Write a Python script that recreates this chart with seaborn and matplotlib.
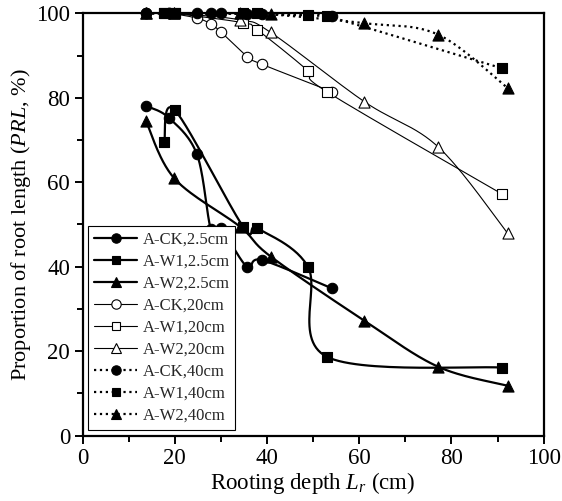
import numpy as np
import pandas as pd
import matplotlib
matplotlib.use("Agg")
import matplotlib.pyplot as plt
from matplotlib.lines import Line2D
import seaborn as sns

# Rooting depths (cm) for each treatment
depth_ck = [13.8, 18.8, 24.8, 27.8, 29.9, 35.7, 38.8, 54.0]
depth_w1 = [17.7, 20.0, 34.8, 37.9, 48.9, 52.9, 91.0]
depth_w2 = [13.7, 19.9, 34.1, 40.8, 61.1, 77.1, 92.2]

# Proportion of root length (%) at 2.5 cm, 20 cm and 40 cm
ck_25 = [78.1, 75.2, 66.6, 48.9, 49.2, 39.9, 41.6, 34.9]
w1_25 = [69.5, 77.1, 49.5, 49.1, 39.9, 18.7, 16.1]
w2_25 = [74.6, 60.9, 49.5, 42.4, 27.2, 16.3, 11.8]

ck_20 = [100.0, 100.0, 98.9, 97.5, 95.7, 89.8, 88.0, 81.5]
w1_20 = [100.0, 100.0, 97.8, 96.1, 86.4, 81.5, 57.2]
w2_20 = [100.0, 100.0, 98.5, 95.5, 79.1, 68.4, 47.9]

ck_40 = [100.0, 100.0, 100.0, 100.0, 100.0, 99.8, 99.8, 99.4]
w1_40 = [100.0, 100.0, 100.0, 100.0, 99.6, 99.4, 87.0]
w2_40 = [100.0, 100.0, 100.0, 99.8, 97.7, 95.0, 82.3]

labels = ["A-CK,2.5cm", "A-W1,2.5cm", "A-W2,2.5cm",
          "A-CK,20cm", "A-W1,20cm", "A-W2,20cm",
          "A-CK,40cm", "A-W1,40cm", "A-W2,40cm"]

x_ticks = [0, 20, 40, 60, 80, 100]
y_ticks = [0, 20, 40, 60, 80, 100]

sns.set_theme(style="ticks")
plt.rcParams["font.family"] = ["Liberation Serif", "DejaVu Serif"]
plt.rcParams["mathtext.fontset"] = "custom"
plt.rcParams["mathtext.rm"] = "Liberation Serif"
plt.rcParams["mathtext.it"] = "Liberation Serif:italic"


def smooth(x, y, n=30):
    """Bezier smoothing through the points (Catmull-Rom style control points)."""
    p = np.column_stack([x, y]).astype(float)
    pts = []
    m = len(p)
    for i in range(m - 1):
        p0 = p[i - 1] if i > 0 else p[i]
        p1, p2 = p[i], p[i + 1]
        p3 = p[i + 2] if i + 2 < m else p[i + 1]
        c1 = p1 + (p2 - p0) / 6.0
        c2 = p2 - (p3 - p1) / 6.0
        t = np.linspace(0, 1, n)[:, None]
        seg = ((1 - t) ** 3) * p1 + 3 * ((1 - t) ** 2) * t * c1 \
            + 3 * (1 - t) * t ** 2 * c2 + t ** 3 * p2
        pts.append(seg if i == 0 else seg[1:])
    s = np.vstack(pts)
    return s[:, 0], s[:, 1]


series = [
    (depth_ck, ck_25, "o", "black", 1.6, "-", 7.5),
    (depth_w1, w1_25, "s", "black", 1.6, "-", 7.0),
    (depth_w2, w2_25, "^", "black", 1.6, "-", 8.0),
    (depth_ck, ck_20, "o", "white", 0.8, "-", 7.5),
    (depth_w1, w1_20, "s", "white", 0.8, "-", 7.0),
    (depth_w2, w2_20, "^", "white", 0.8, "-", 8.0),
    (depth_ck, ck_40, "o", "black", 1.6, ":", 7.5),
    (depth_w1, w1_40, "s", "black", 1.6, ":", 7.0),
    (depth_w2, w2_40, "^", "black", 1.6, ":", 8.0),
]

fig = plt.figure(figsize=(5.62, 5.01), dpi=100)
ax = fig.add_axes([0.1471, 0.1307, 0.8203, 0.8424])

handles = []
for (xs, ys, mk, fc, lw, ls, ms), lab in zip(series, labels):
    sx, sy = smooth(xs, ys)
    ax.plot(sx, sy, color="black", lw=lw, ls=ls, zorder=2, clip_on=False)
    df = pd.DataFrame({"x": xs, "y": ys})
    sns.scatterplot(data=df, x="x", y="y", marker=mk, s=ms ** 2,
                    facecolor=fc, edgecolor="black", linewidth=0.8,
                    ax=ax, zorder=3, clip_on=False, legend=False)
    handles.append(Line2D([], [], color="black", lw=lw, ls=ls, marker=mk,
                          markersize=ms * 0.9, markerfacecolor=fc,
                          markeredgecolor="black", markeredgewidth=0.8))

ax.set_xlim(0, 100)
ax.set_ylim(0, 100)
ax.set_xticks(x_ticks)
ax.set_yticks(y_ticks)
ax.set_xticks(np.arange(10, 100, 20), minor=True)
ax.set_yticks(np.arange(10, 100, 20), minor=True)
ax.tick_params(which="major", direction="out", length=6, width=1.4,
               labelsize=16.5, color="black", labelcolor="black", pad=3)
ax.tick_params(which="minor", direction="out", length=4, width=1.4,
               color="black")
for sp in ax.spines.values():
    sp.set_visible(True)
    sp.set_linewidth(1.6)
    sp.set_color("black")

ax.set_xlabel(r"Rooting depth $L_r$ (cm)", fontsize=16.5, color="black", labelpad=1)
ax.set_ylabel(r"Proportion of root length ($PRL$, $\%$)", fontsize=16,
              color="black", labelpad=2)

leg = ax.legend(handles, labels, loc="lower left", bbox_to_anchor=(0.012, 0.014),
                borderaxespad=0, fontsize=12, frameon=True, fancybox=False,
                framealpha=1, edgecolor="black", handlelength=2.6,
                handletextpad=0.3, labelspacing=0.36, borderpad=0.35)
leg.get_frame().set_linewidth(0.8)
leg.set_zorder(5)

fig.savefig("out.png", dpi=100)
